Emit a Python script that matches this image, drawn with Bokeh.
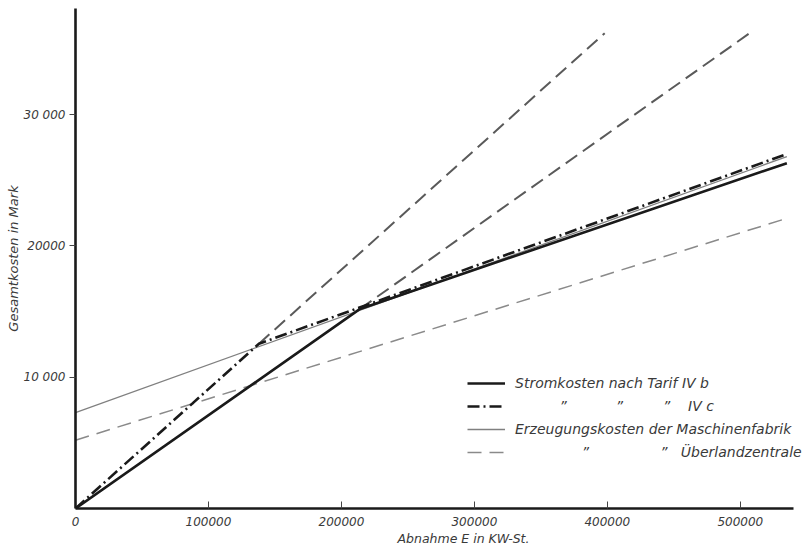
from bokeh.plotting import figure
from bokeh.models import Range1d, FixedTicker, Legend, LegendItem, Title
from bokeh.embed import file_html
from bokeh.resources import INLINE

# ---- data ----
energy_ivb = [0, 214000, 535000]
cost_ivb = [0, 15200, 26300]
energy_ivc = [0, 138000, 535000]
cost_ivc = [0, 12550, 27000]
energy_ivb_ext = [214000, 507000]
cost_ivb_ext = [15200, 36200]
energy_ivc_ext = [138000, 398000]
cost_ivc_ext = [12550, 36200]
energy_masch = [0, 535000]
cost_masch = [7300, 26800]
energy_ueber = [0, 535000]
cost_ueber = [5200, 22100]

x_ticks = [0, 100000, 200000, 300000, 400000, 500000]
x_tick_labels = ["0", "100000", "200000", "300000", "400000", "500000"]
y_ticks = [10000, 20000, 30000]
y_tick_labels = ["10 000", "20000", "30 000"]

SP = " "
DITTO = "\u201d"
legend_labels = [
    "Stromkosten nach Tarif IV b",
    SP * 10 + DITTO + SP * 11 + DITTO + SP * 9 + DITTO + SP * 4 + "IV c",
    "Erzeugungskosten der Maschinenfabrik",
    SP * 15 + DITTO + SP * 16 + DITTO + SP * 3 + "\u00dcberlandzentrale",
]

FONT = "DejaVu Sans"
TXT = "#3a3a3a"

# frame spans 728 px; axis line drawn only up to 540000
p = figure(width=805, height=545, output_backend="svg", toolbar_location=None,
           x_range=Range1d(0, 547520), y_range=Range1d(0, 38080),
           min_border_left=75, min_border_right=2, min_border_top=8,
           min_border_bottom=37)
p.outline_line_color = None
p.xgrid.visible = False
p.ygrid.visible = False
p.background_fill_color = "white"
p.border_fill_color = "white"

# axes
p.xaxis.ticker = FixedTicker(ticks=x_ticks)
p.xaxis.major_label_overrides = {t: l for t, l in zip(x_ticks, x_tick_labels)}
p.xaxis.bounds = (0, 540000)
p.yaxis.ticker = FixedTicker(ticks=y_ticks)
p.yaxis.major_label_overrides = {t: l for t, l in zip(y_ticks, y_tick_labels)}
for ax in (p.xaxis, p.yaxis):
    ax.axis_line_color = "#1a1a1a"
    ax.axis_line_width = 2.6
    ax.major_tick_line_color = "#444"
    ax.major_tick_line_width = 1
    ax.minor_tick_line_color = None
    ax.major_label_text_font = FONT
    ax.major_label_text_font_style = "italic"
    ax.major_label_text_font_size = "12px"
    ax.major_label_text_color = TXT
p.xaxis.major_tick_in = 7
p.xaxis.major_tick_out = 0
p.xaxis.major_label_standoff = 8
p.yaxis.major_tick_in = 0
p.yaxis.major_tick_out = 6
p.yaxis.major_label_standoff = 4
p.yaxis.axis_label = "Gesamtkosten in Mark"
p.yaxis.axis_label_text_font = FONT
p.yaxis.axis_label_text_font_style = "italic"
p.yaxis.axis_label_text_font_size = "13px"
p.yaxis.axis_label_text_color = TXT
p.yaxis.axis_label_standoff = 0

# lines
r_ivb_ext = p.line(energy_ivb_ext, cost_ivb_ext, line_color="#5a5a5a", line_width=2,
                   line_dash="14 7")
r_ivc_ext = p.line(energy_ivc_ext, cost_ivc_ext, line_color="#5a5a5a", line_width=2,
                   line_dash="14 7")
r_ueber = p.line(energy_ueber, cost_ueber, line_color="#8a8a8a", line_width=1.5,
                 line_dash="14 8")
r_masch = p.line(energy_masch, cost_masch, line_color="#808080", line_width=1.3)
r_ivc = p.line(energy_ivc, cost_ivc, line_color="#1a1a1a", line_width=2.6,
               line_dash="12 4 2 4")
r_ivb = p.line(energy_ivb, cost_ivb, line_color="#1a1a1a", line_width=2.6)

legend = Legend(items=[
    LegendItem(label=legend_labels[0], renderers=[r_ivb]),
    LegendItem(label=legend_labels[1], renderers=[r_ivc]),
    LegendItem(label=legend_labels[2], renderers=[r_masch]),
    LegendItem(label=legend_labels[3], renderers=[r_ueber]),
], location=(392, 46))
legend.border_line_color = None
legend.background_fill_alpha = 0
legend.glyph_width = 38
legend.glyph_height = 20
legend.label_height = 20
legend.spacing = 3
legend.padding = 0
legend.margin = 0
legend.label_standoff = 10
legend.label_text_font = FONT
legend.label_text_font_style = "italic"
legend.label_text_font_size = "14px"
legend.label_text_color = TXT
p.add_layout(legend)

xlabel = Title(text="Abnahme E in KW-St.", align="left", offset=322, standoff=0,
               text_font=FONT, text_font_style="italic", text_font_size="12.5px",
               text_color=TXT)
p.add_layout(xlabel, "below")

open("out.html", "w").write(file_html(p, INLINE))
